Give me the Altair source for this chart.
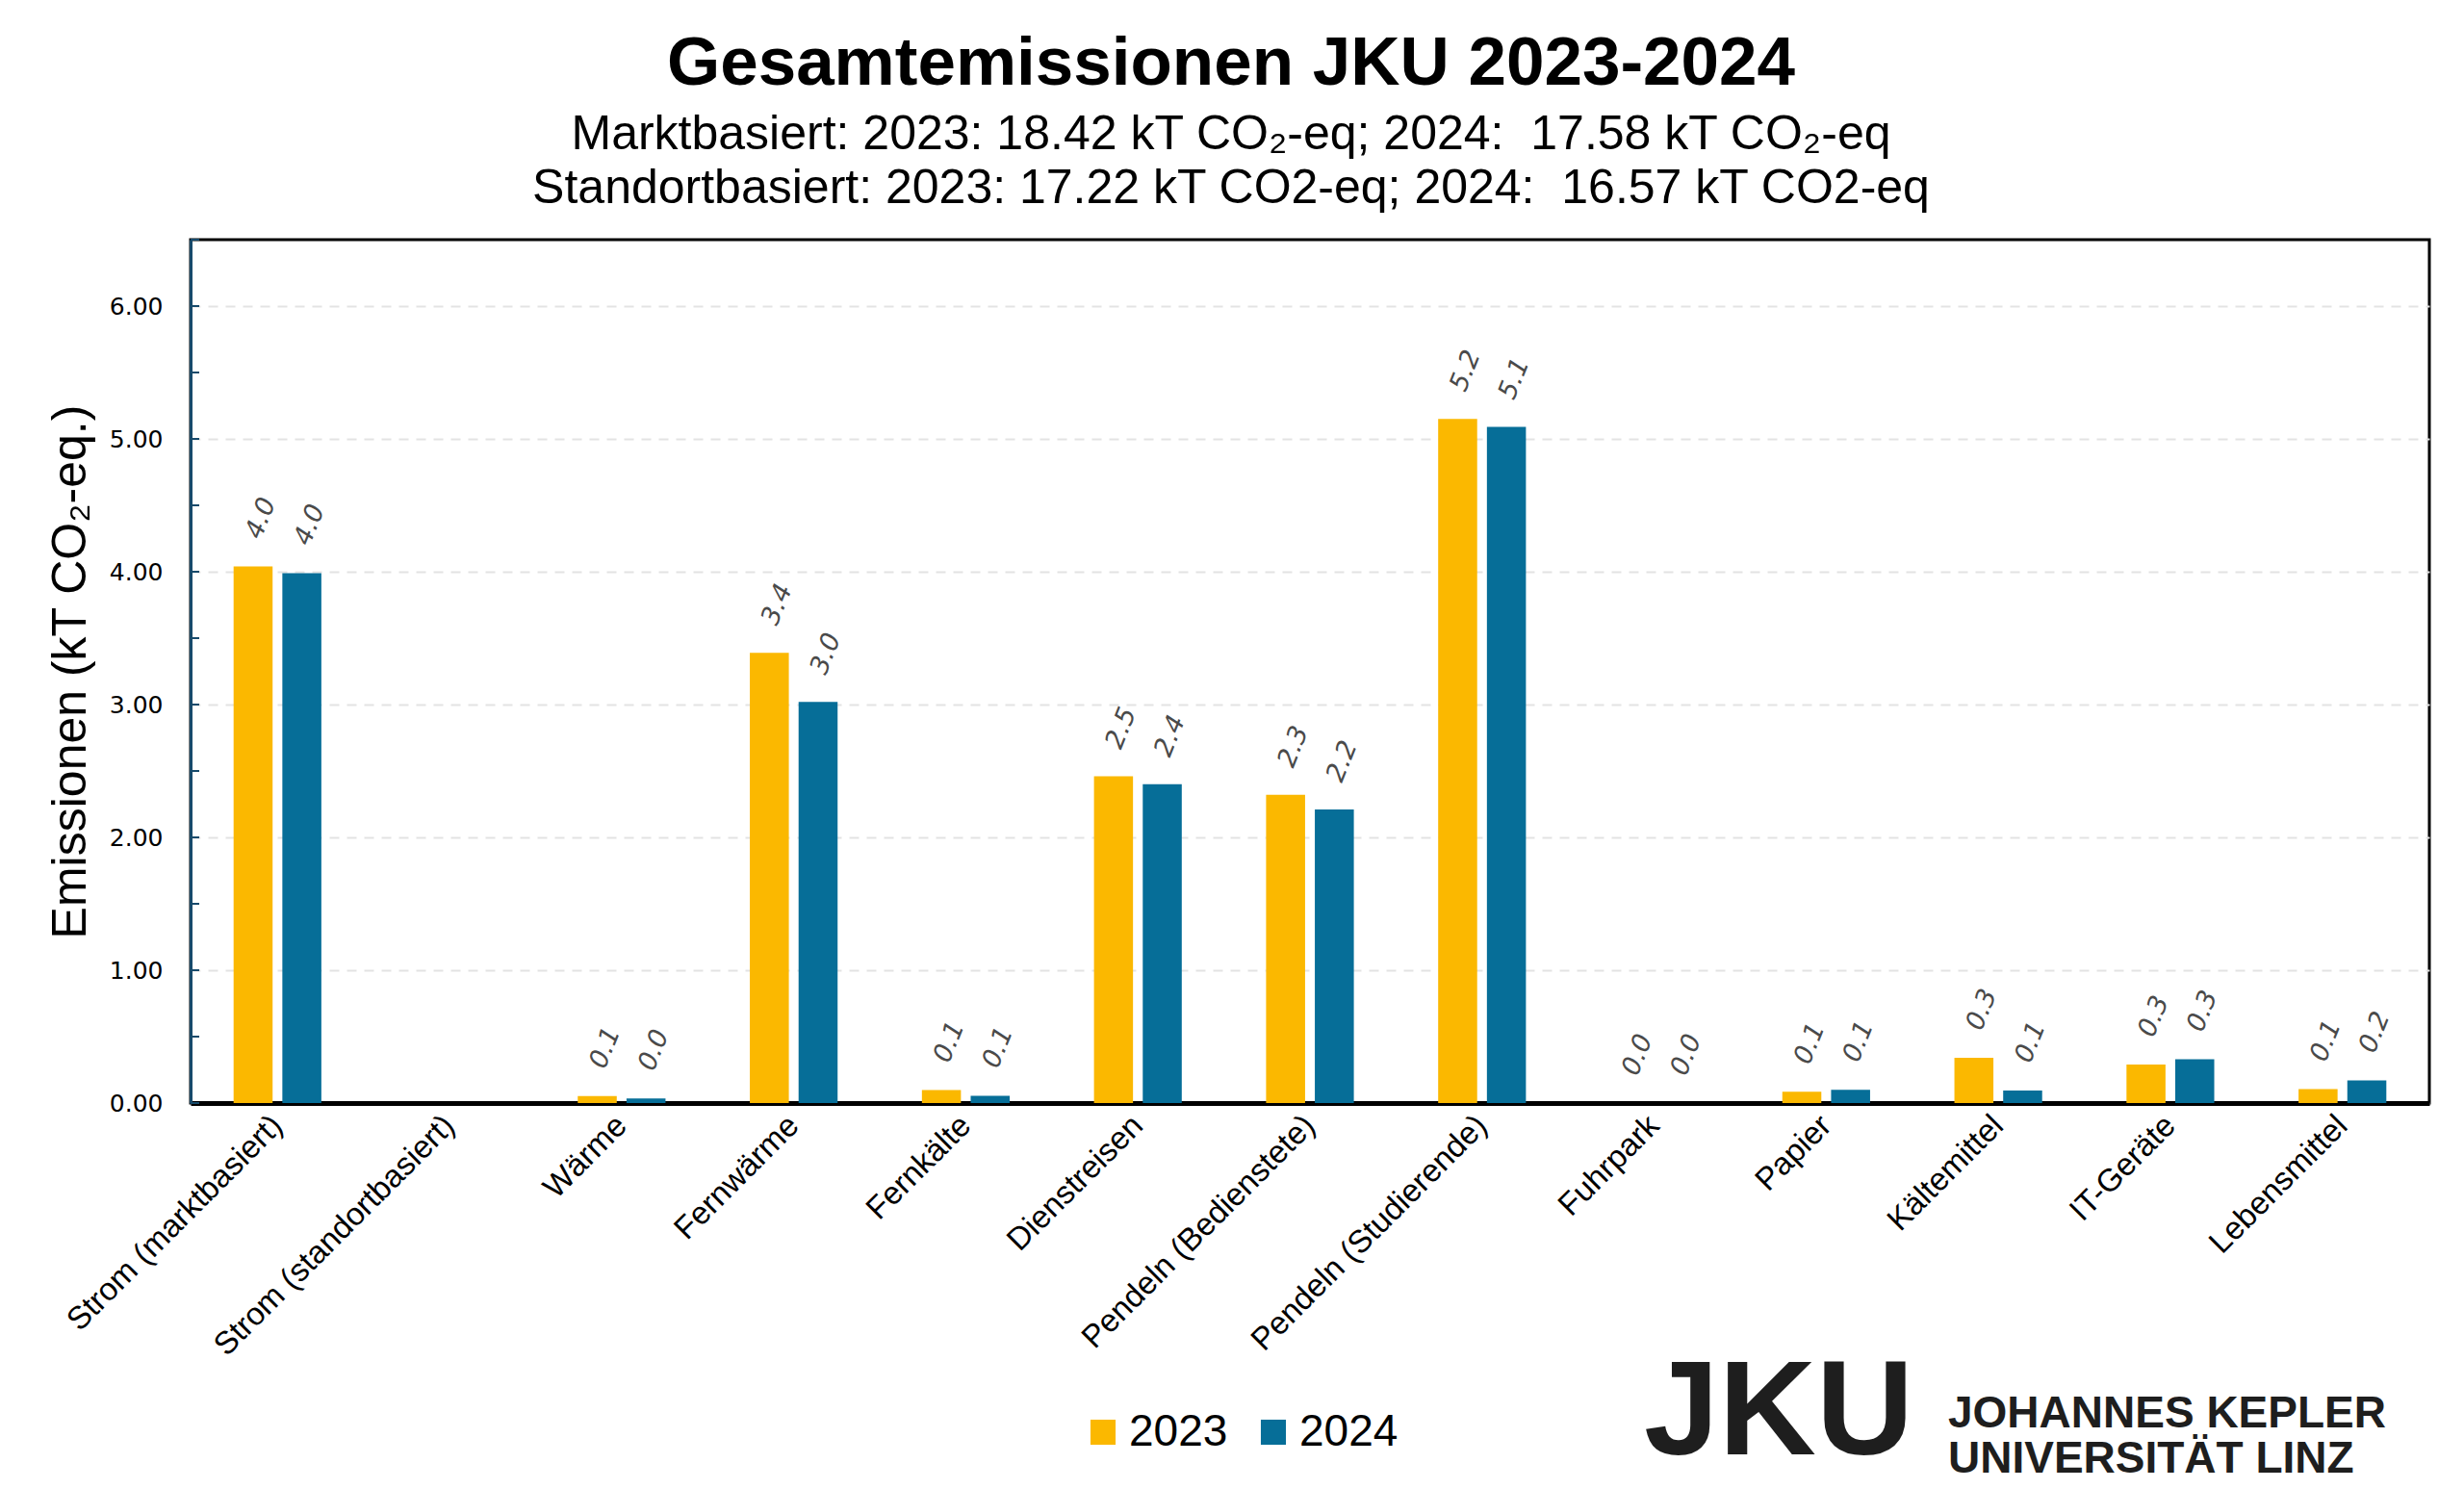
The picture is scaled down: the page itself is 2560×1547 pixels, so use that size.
import altair as alt
import pandas as pd

# --- data ---
categories = [
    "Strom (marktbasiert)", "Strom (standortbasiert)", "Wärme", "Fernwärme",
    "Fernkälte", "Dienstreisen", "Pendeln (Bedienstete)", "Pendeln (Studierende)",
    "Fuhrpark", "Papier", "Kältemittel", "IT-Geräte", "Lebensmittel",
]
years = ["2023", "2024"]
values_2023 = [4.04, None, 0.052, 3.39, 0.097, 2.46, 2.32, 5.15, 0.0, 0.085, 0.34, 0.29, 0.105]
values_2024 = [3.99, None, 0.035, 3.02, 0.055, 2.40, 2.21, 5.09, 0.0, 0.10, 0.095, 0.33, 0.17]
year_colors = ["#FBB800", "#066E98"]
y_ticks = [0, 1, 2, 3, 4, 5, 6]
minor_ticks = [0, 0.5, 1, 1.5, 2, 2.5, 3, 3.5, 4, 4.5, 5, 5.5, 6, 6.5]

title_text = "Gesamtemissionen JKU 2023-2024"
# the second space after "2024:" is a no-break space so the double gap survives in SVG
subtitle_lines = [
    "Marktbasiert: 2023: 18.42 kT CO₂-eq; 2024: \u00a017.58 kT CO₂-eq",
    "Standortbasiert: 2023: 17.22 kT CO2-eq; 2024: \u00a016.57 kT CO2-eq",
]
y_title = "Emissionen (kT CO₂-eq.)"
logo_lines = ["JOHANNES KEPLER", "UNIVERSITÄT LINZ"]

rows = []
for cat, a, b in zip(categories, values_2023, values_2024):
    rows.append({"category": cat, "year": years[0], "value": a})
    rows.append({"category": cat, "year": years[1], "value": b})
df = pd.DataFrame(rows)

x_enc = alt.X(
    "category:N",
    sort=categories,
    title=None,
    scale=alt.Scale(paddingInner=0.49, paddingOuter=0.25),
    axis=alt.Axis(
        labelAngle=315, labelAlign="right", labelBaseline="middle",
        labelFont="Liberation Sans", labelFontSize=33, labelColor="black",
        labelPadding=18, ticks=False, domainColor="black", domainWidth=5,
        labelLimit=600,
    ),
)
y_enc = alt.Y(
    "value:Q",
    title=y_title,
    scale=alt.Scale(domain=[0, 6.5], nice=False),
    axis=alt.Axis(
        values=y_ticks, format=".2f",
        labelFont="DejaVu Sans", labelFontSize=25, labelColor="black", labelPadding=29,
        ticks=False, domainColor="#174A6B", domainWidth=3,
        grid=True, gridDash=[10, 8], gridColor="#E3E3E3", gridWidth=2,
        titleFont="Liberation Sans", titleFontSize=50, titleFontWeight="normal",
        titleColor="black", titlePadding=15,
    ),
)
xoff_enc = alt.XOffset("year:N", scale=alt.Scale(paddingInner=0.2, paddingOuter=0))

bars = alt.Chart(df).mark_bar().encode(
    x=x_enc,
    y=y_enc,
    xOffset=xoff_enc,
    color=alt.Color(
        "year:N",
        scale=alt.Scale(domain=years, range=year_colors),
        legend=alt.Legend(
            title=None, orient="none", direction="horizontal",
            legendX=925, legendY=1216, symbolType="square", symbolSize=680,
            symbolStrokeWidth=0, labelFont="Liberation Sans", labelFontSize=46,
            labelColor="black", labelOffset=4, columnPadding=24, padding=0,
        ),
    ),
)

labels = alt.Chart(df).transform_filter("datum.value != null").mark_text(
    angle=292, align="left", baseline="middle", dx=28, dy=-11,
    font="DejaVu Sans", fontStyle="italic", fontSize=27, color="#4A4A4A",
).encode(
    x=x_enc,
    y=y_enc,
    xOffset=xoff_enc,
    text=alt.Text("value:Q", format=".1f"),
)

ticks = alt.Chart(pd.DataFrame({"value": minor_ticks})).mark_rule(
    color="#174A6B", strokeWidth=2
).encode(y=y_enc, x=alt.value(0), x2=alt.value(9))

logo_style = dict(font="Liberation Sans", fontWeight="bold", color="#1E1E1E", align="left",
                  baseline="alphabetic")
logo_mark = alt.Chart(pd.DataFrame({"t": ["JKU"]})).mark_text(fontSize=140, **logo_style).encode(
    text="t:N", x=alt.value(1510), y=alt.value(1262)
)
logo_line1 = alt.Chart(pd.DataFrame({"t": logo_lines[:1]})).mark_text(
    fontSize=46, **logo_style
).encode(text="t:N", x=alt.value(1826), y=alt.value(1234))
logo_line2 = alt.Chart(pd.DataFrame({"t": logo_lines[1:]})).mark_text(
    fontSize=46, **logo_style
).encode(text="t:N", x=alt.value(1826), y=alt.value(1281))

chart = (
    alt.layer(bars, labels, ticks, logo_mark, logo_line1, logo_line2)
    .properties(
        width=2326,
        height=897,
        autosize=alt.AutoSizeParams(type="none"),
        padding={"left": 190, "top": 241, "right": 20, "bottom": 399},
        background="white",
        title=alt.TitleParams(
            title_text,
            subtitle=subtitle_lines,
            anchor="middle", dx=-82, offset=26,
            font="Liberation Sans", fontSize=71, fontWeight="bold", color="black",
            subtitleFont="Liberation Sans", subtitleFontSize=50, subtitleColor="black",
            subtitleLineHeight=56, subtitlePadding=12,
        ),
    )
    .configure_view(stroke="black", strokeWidth=3)
)

chart.save("out.html", embed_options={"renderer": "svg", "actions": False})
